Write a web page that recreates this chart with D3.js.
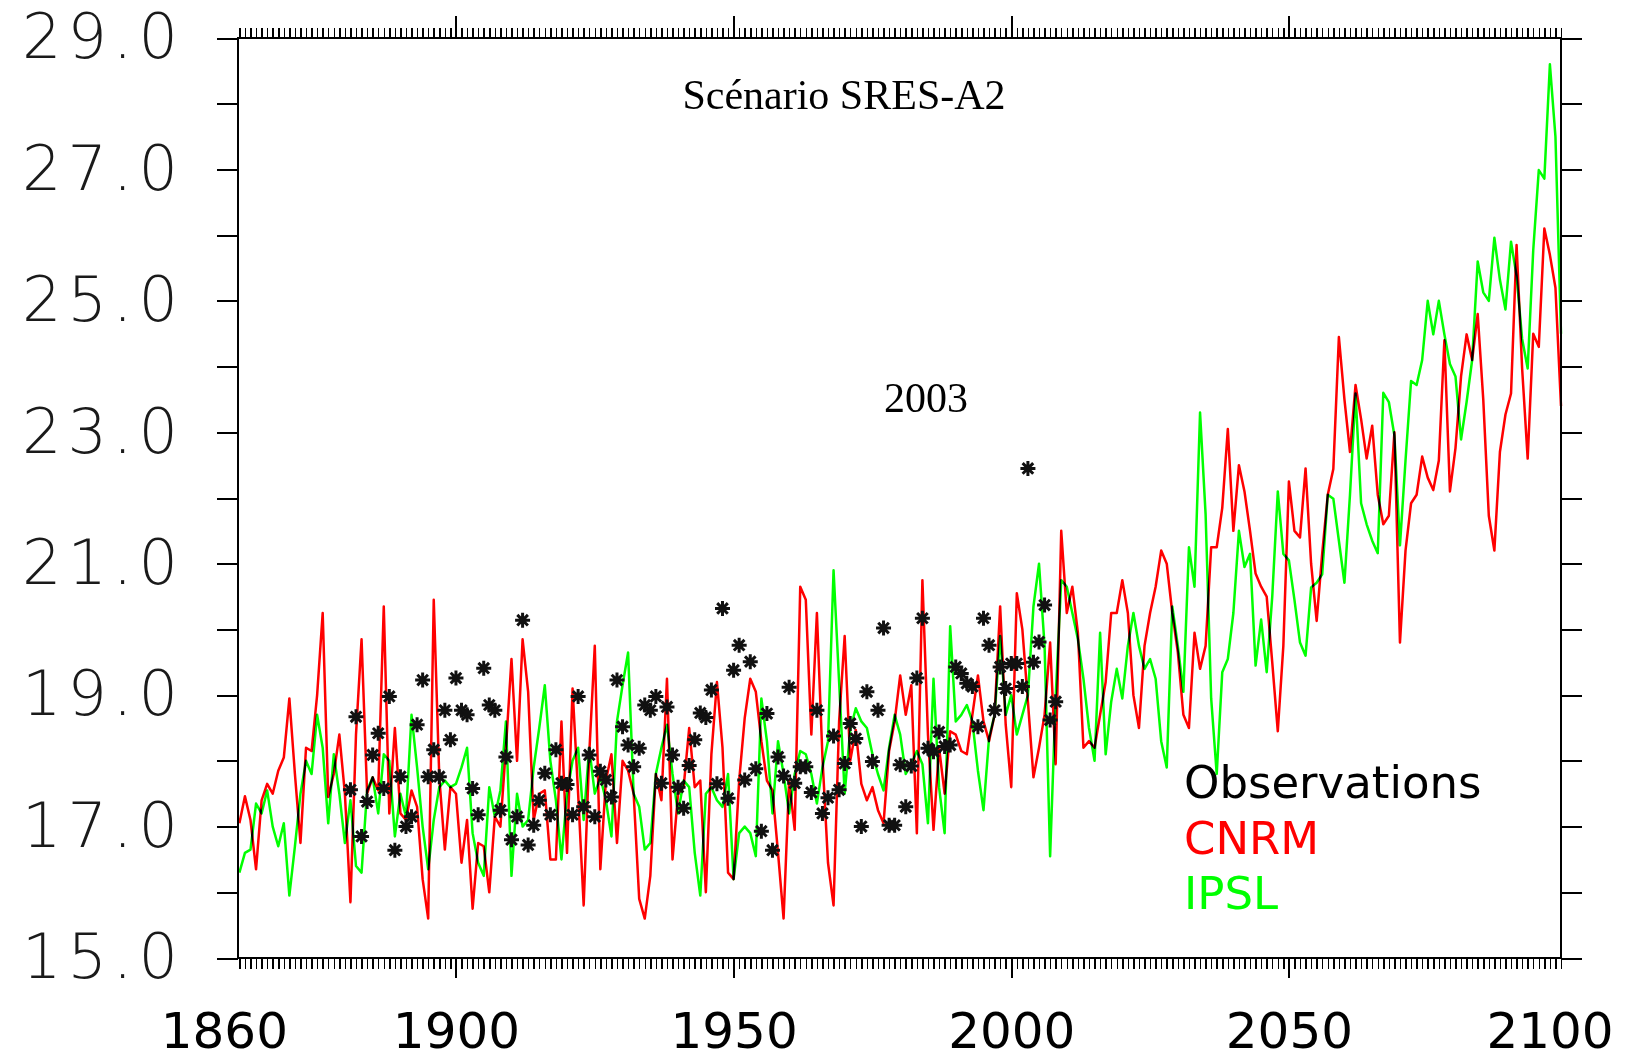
<!DOCTYPE html>
<html>
<head>
<meta charset="utf-8">
<title>Scénario SRES-A2</title>
<script src="https://cdn.jsdelivr.net/npm/d3@7"></script>
<style>
  html, body { margin: 0; padding: 0; background: #fff; }
  svg { display: block; }
</style>
</head>
<body>
<svg id="chart" width="1625" height="1060"></svg>
<script>
// annual values
const modelStart = 1861;
const cnrm = [
  17.05, 17.46, 17.1, 16.35, 17.4, 17.65, 17.5, 17.85, 18.05, 18.95,
  17.8, 16.75, 18.2, 18.15, 19.0, 20.25, 17.45, 17.8, 18.4, 17.5,
  15.85, 18.4, 19.85, 17.5, 17.75, 17.55, 20.35, 17.2, 18.5, 17.2,
  17.1, 17.55, 17.3, 16.2, 15.6, 20.45, 17.75, 16.65, 17.6, 17.5,
  16.45, 17.1, 15.75, 16.75, 16.7, 16.0, 17.15, 17.0, 18.2, 19.55,
  18.0, 19.85, 19.05, 17.1, 17.5, 17.55, 16.5, 16.5, 18.6, 16.6,
  19.1, 17.5, 15.8, 18.1, 19.75, 16.35, 17.7, 18.1, 16.75, 18.0,
  17.85, 17.5, 15.9, 15.6, 16.25, 17.8, 17.4, 19.25, 16.5, 17.5,
  17.6, 18.5, 17.6, 17.7, 16.0, 18.1, 19.2, 18.2, 16.3, 16.2,
  17.7, 18.65, 19.25, 19.05, 18.3, 17.7, 17.55, 16.6, 15.6, 17.7,
  16.95, 20.65, 20.45, 18.4, 20.25, 18.05, 16.45, 15.8, 18.6, 19.9,
  18.0, 18.47, 17.65, 17.4, 17.6, 17.25, 17.05, 18.15, 18.6, 19.3,
  18.7, 19.15, 16.9, 20.75, 18.4, 16.95, 18.2, 17.5, 18.45, 18.4,
  18.15, 18.1, 18.7, 19.3, 18.6, 18.3, 18.7, 20.35, 18.55, 17.6,
  20.55, 20.0, 18.9, 17.75, 18.2, 18.7, 19.8, 17.95, 21.5, 20.25,
  20.65, 19.95, 18.2, 18.3, 18.2, 18.7, 19.2, 20.25, 20.25, 20.75,
  20.25, 19.0, 18.5, 19.75, 20.25, 20.65, 21.2, 21.0, 20.25, 19.65,
  18.7, 18.5, 19.95, 19.4, 19.75, 21.25, 21.25, 21.85, 23.05, 21.5,
  22.5, 22.1, 21.5, 20.85, 20.65, 20.5, 19.5, 18.45, 19.75, 22.25,
  21.5, 21.4, 22.45, 21.0, 20.13, 21.16, 22.05, 22.44, 24.45, 23.5,
  22.7, 23.72, 23.2, 22.6, 23.1, 22.05, 21.6, 21.73, 23.0, 19.8,
  21.2, 21.92, 22.05, 22.63, 22.31, 22.12, 22.57, 24.4, 22.1, 22.76,
  23.85, 24.49, 24.1, 24.8, 23.5, 21.73, 21.2, 22.7, 23.27, 23.59,
  25.85, 23.97, 22.6, 24.5, 24.3, 26.1, 25.7, 25.2, 23.4
];
const ipsl = [
  16.3, 16.6, 16.65, 17.35, 17.2, 17.55, 17.0, 16.7, 17.05, 15.95,
  16.7, 17.5, 18.0, 17.8, 18.7, 18.2, 17.05, 18.1, 17.5, 16.75,
  17.4, 16.4, 16.3, 17.55, 17.75, 17.2, 18.1, 18.0, 16.85, 17.5,
  17.15, 18.7, 17.9, 17.0, 16.35, 17.1, 17.6, 17.7, 17.6, 17.65,
  17.9, 18.2, 16.9, 16.45, 16.25, 17.6, 17.15, 17.55, 18.6, 16.25,
  17.5, 17.0, 17.1, 17.9, 18.5, 19.15, 18.0, 17.4, 16.5, 17.5,
  18.0, 18.2, 17.1, 18.2, 17.5, 17.75, 17.4, 16.85, 18.6, 19.15,
  19.65, 17.5, 17.3, 16.65, 16.75, 17.8, 18.2, 18.55, 17.8, 17.2,
  17.7, 17.6, 16.6, 15.95, 17.5, 17.6, 17.4, 17.3, 17.8, 16.2,
  16.9, 17.0, 16.9, 16.55, 18.95, 18.3, 17.2, 18.3, 17.8, 17.2,
  17.8, 18.15, 18.1, 17.8, 17.35, 17.9, 18.3, 20.9, 19.2, 17.5,
  18.47, 18.8, 18.6, 18.5, 18.1, 17.8, 17.55, 18.2, 18.7, 18.4,
  17.8, 17.95, 18.15, 17.95, 17.05, 19.25, 17.6, 16.9, 20.05, 18.6,
  18.7, 18.85, 18.6, 17.85, 17.25, 18.35, 18.7, 19.9, 18.7, 19.0,
  18.4, 18.7, 19.0, 20.35, 21.0, 19.75, 16.55, 18.97, 20.75, 20.65,
  20.25, 19.85, 19.25, 18.5, 18.0, 19.95, 18.1, 18.9, 19.4, 18.95,
  19.75, 20.25, 19.75, 19.4, 19.55, 19.25, 18.3, 17.9, 20.35, 19.75,
  19.05, 21.25, 20.65, 23.3, 21.75, 18.95, 17.8, 19.35, 19.55, 20.25,
  21.5, 20.95, 21.15, 19.45, 20.15, 19.35, 20.5, 22.1, 21.15, 21.05,
  20.45, 19.8, 19.6, 20.64, 20.71, 20.84, 22.05, 21.99, 21.35, 20.71,
  22.05, 23.59, 21.92, 21.6, 21.35, 21.16, 23.6, 23.46, 22.95, 21.28,
  22.57, 23.78, 23.72, 24.1, 25.0, 24.49, 25.0, 24.49, 24.04, 23.85,
  22.89, 23.46, 24.1, 25.6, 25.13, 25.0, 25.96, 25.32, 24.87, 25.9,
  25.38, 24.42, 23.97, 25.77, 26.99, 26.86, 28.6, 27.5, 24.5
];
const obsStart = 1881;
const obs = [
  17.56, 18.67, 16.85, 17.38, 18.09, 18.42, 17.58, 18.98, 16.64, 17.76,
  17.0, 17.15, 18.55, 19.23, 17.76, 18.17, 17.76, 18.77, 18.32, 19.26,
  18.77, 18.7, 17.58, 17.18, 19.41, 18.85, 18.77, 17.25, 18.06, 16.8,
  17.15, 20.14, 16.72, 17.02, 17.4, 17.81, 17.18, 18.17, 17.66, 17.64,
  17.18, 18.98, 17.3, 18.09, 17.15, 17.84, 17.71, 17.45, 19.23, 18.52,
  18.24, 17.91, 18.19, 18.85, 18.77, 18.98, 17.66, 18.82, 18.09, 17.6,
  17.28, 17.93, 18.32, 18.73, 18.66, 19.08, 17.65, 20.32, 17.43, 19.38,
  19.76, 17.71, 19.51, 17.88, 16.93, 18.72, 16.64, 18.06, 17.77, 19.12,
  17.66, 17.91, 17.91, 17.52, 18.77, 17.2, 17.44, 18.38, 17.56, 17.96,
  18.57, 18.34, 17.0, 19.05, 17.99, 18.77, 20.02, 17.02, 17.02, 17.94,
  17.3, 17.92, 19.26, 20.17, 18.19, 18.14, 18.44, 18.22, 18.24, 19.43,
  19.33, 19.18, 19.13, 18.52, 20.17, 19.76, 18.77, 19.43, 19.1, 19.48,
  19.48, 19.13, 22.45, 19.5, 19.81, 20.37, 18.62, 18.9
];

const yTickValues = d3.range(15, 30);
const xLabelYears = [1860, 1900, 1950, 2000, 2050, 2100];
const xMajorYears = [1900, 1950, 2000, 2050];
const xMinorYears = d3.range(1861, 2100);
const labelNudge = { 1860: -10, 2100: -17 };

const legendItems = [
  { name: "Observations", color: "#000000" },
  { name: "CNRM", color: "#ff0000" },
  { name: "IPSL", color: "#00ff00" },
];

const plotLeft = 238, plotRight = 1561, plotTop = 38, plotBottom = 958;

const svg = d3.select("#chart");
svg.append("rect").attr("width", 1625).attr("height", 1060).attr("fill", "#fff");

const x = d3.scaleLinear().domain([1860.75, 2099]).range([plotLeft, plotRight]);
const y = d3.scaleLinear().domain([15, 29]).range([plotBottom, plotTop]);

function styleTicks(g, w) {
  g.select(".domain").remove();
  g.selectAll(".tick line").attr("stroke", "#000").attr("stroke-width", w).attr("shape-rendering", "crispEdges");
}

// y axes
const yLeft = svg.append("g")
  .attr("transform", `translate(${plotLeft},0)`)
  .call(d3.axisLeft(y).tickValues(yTickValues).tickSize(21).tickPadding(33)
    .tickFormat(d => d % 2 === 1 ? d3.format(".1f")(d) : ""));
styleTicks(yLeft, 2);
yLeft.selectAll("text")
  .attr("font-family", "'DejaVu Sans ExtraLight', 'DejaVu Sans', sans-serif")
  .attr("font-weight", 200)
  .attr("font-size", 62)
  .attr("letter-spacing", 6)
  .attr("fill", "#1a1a1a");

const yRight = svg.append("g")
  .attr("transform", `translate(${plotRight},0)`)
  .call(d3.axisRight(y).tickValues(yTickValues).tickSize(21).tickFormat(""));
styleTicks(yRight, 2);

// x ticks, bottom and top
const bMinor = svg.append("g").attr("transform", `translate(0,${plotBottom})`)
  .call(d3.axisBottom(x).tickValues(xMinorYears).tickSize(11).tickFormat(""));
styleTicks(bMinor, 1.5);
const bMajor = svg.append("g").attr("transform", `translate(0,${plotBottom})`)
  .call(d3.axisBottom(x).tickValues(xMajorYears).tickSize(20).tickFormat(""));
styleTicks(bMajor, 2);
const tMinor = svg.append("g").attr("transform", `translate(0,${plotTop})`)
  .call(d3.axisTop(x).tickValues(xMinorYears).tickSize(10).tickFormat(""));
styleTicks(tMinor, 1.5);
const tMajor = svg.append("g").attr("transform", `translate(0,${plotTop})`)
  .call(d3.axisTop(x).tickValues(xMajorYears).tickSize(22).tickFormat(""));
styleTicks(tMajor, 2);

const xLab = svg.append("g").attr("transform", `translate(0,${plotBottom})`)
  .call(d3.axisBottom(x).tickValues(xLabelYears).tickSize(0).tickPadding(54.5).tickFormat(d3.format("d")));
xLab.select(".domain").remove();
xLab.selectAll("text")
  .attr("font-family", "'DejaVu Sans', Verdana, sans-serif")
  .attr("font-size", 50)
  .attr("fill", "#000")
  .attr("dx", d => labelNudge[d] || 0);

// frame
svg.append("rect")
  .attr("x", plotLeft).attr("y", plotTop)
  .attr("width", plotRight - plotLeft).attr("height", plotBottom - plotTop)
  .attr("fill", "none").attr("stroke", "#000").attr("stroke-width", 2);

// model series
const line = d3.line().x((d, i) => x(modelStart + i)).y(d => y(d));
const series = [
  { values: ipsl, color: legendItems[2].color },
  { values: cnrm, color: legendItems[1].color },
];
svg.append("g").selectAll("path")
  .data(series)
  .join("path")
  .attr("d", d => line(d.values))
  .attr("fill", "none")
  .attr("stroke", d => d.color)
  .attr("stroke-width", 2.5)
  .attr("stroke-linejoin", "round")
  .style("mix-blend-mode", "multiply");

// observations as asterisks
const asterisk = {
  draw(ctx, size) {
    const r = Math.sqrt(size) / 2;
    const d = r * Math.SQRT1_2;
    ctx.moveTo(-r, 0); ctx.lineTo(r, 0);
    ctx.moveTo(0, -r); ctx.lineTo(0, r);
    ctx.moveTo(-d, -d); ctx.lineTo(d, d);
    ctx.moveTo(-d, d); ctx.lineTo(d, -d);
  }
};
svg.append("g").selectAll("path")
  .data(obs)
  .join("path")
  .attr("transform", (d, i) => `translate(${x(obsStart + i)},${y(d)})`)
  .attr("d", d3.symbol(asterisk, 225))
  .attr("fill", "none")
  .attr("stroke", "#111")
  .attr("stroke-width", 3);

// annotations
svg.append("text")
  .attr("x", 844).attr("y", 109)
  .attr("text-anchor", "middle")
  .attr("font-family", "'Liberation Serif', 'Times New Roman', serif")
  .attr("font-size", 42)
  .text("Scénario SRES-A2");

svg.append("text")
  .attr("x", 926).attr("y", 412)
  .attr("text-anchor", "middle")
  .attr("font-family", "'Liberation Serif', 'Times New Roman', serif")
  .attr("font-size", 42)
  .text("2003");

svg.append("g").selectAll("text")
  .data(legendItems)
  .join("text")
  .attr("x", 1184)
  .attr("y", (d, i) => 798 + i * 55.5)
  .attr("font-family", "'DejaVu Sans', Verdana, sans-serif")
  .attr("font-size", 45)
  .attr("fill", d => d.color)
  .text(d => d.name);
</script>
</body>
</html>
